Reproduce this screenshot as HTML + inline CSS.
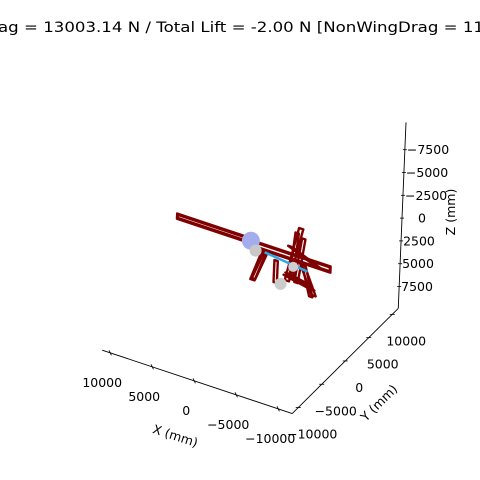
<!DOCTYPE html>
<html><head><meta charset="utf-8"><style>
html,body{margin:0;padding:0;background:#fff}
svg{display:block;font-family:"DejaVu Sans","Liberation Sans",sans-serif}
</style></head><body>
<svg id="chart" width="480" height="480" viewBox="0 0 480 480" xmlns="http://www.w3.org/2000/svg">
<rect width="480" height="480" fill="#fff"/>
<text x="-2" y="32" font-size="14.5" textLength="486" lengthAdjust="spacingAndGlyphs">ag = 13003.14 N / Total Lift = -2.00 N [NonWingDrag = 11</text>
<g id="axes"></g>
<g id="model"></g>
</svg>
<script>
const xTicks = [10000, 5000, 0, -5000, -10000];
const xTickLabels = ["10000", "5000", "0", "\u22125000", "\u221210000"];
const yTicks = [-10000, -5000, 0, 5000, 10000];
const yTickLabels = ["\u221210000", "\u22125000", "0", "5000", "10000"];
const zTicks = [-7500, -5000, -2500, 0, 2500, 5000, 7500];
const zTickLabels = ["\u22127500", "\u22125000", "\u22122500", "0", "2500", "5000", "7500"];
const xRange = [10950, -11667];
const yRange = [-11280, 11280];
const zRange = [-10500, 9900];

// frames: [x1,x2,y,z1,z2] rectangles in x-z plane (mm)
const barFrames = [[8800, 0, 0, 0, 600], [8700, 100, 0, 150, 450], [0, -9500, 0, 200, 900], [-100, -9400, 0, 350, 750]];
// struts: [xa,za,xb,zb,width_mm]
const struts = [[-1310, 1130, -120, 4460, 500], [-1500, 1300, -300, 4300, 400], [-2860, 1535, -2860, 3950, 400],
  [-5600, -2820, -4170, 3320, 500], [-5200, -2200, -4700, 3000, 400], [-6000, -1800, -5300, 3200, 400],
  [-5830, 840, -7380, 3980, 500], [-6100, 900, -7100, 4200, 400], [-4000, 2800, -7200, 3400, 500],
  [-4200, 2500, -7000, 3000, 400], [-4400, -500, -7900, 800, 500]];
const spheres = [[0, 300, 9, "#a3aded"], [-600, 1200, 6, "#c8c8c8"], [-3700, 3900, 6, "#cccccc"], [-5100, 1600, 5, "#d0d0d0"]];
const cyanLine = [[-1670, 1050], [-6800, 1600]];

function P(x, y, z) {
  return [251 - 0.0084 * x + 0.0047 * y - 0.00038 * z, 238 - 0.0028 * x - 0.00466 * y + 0.00912 * z];
}
const NS = "http://www.w3.org/2000/svg";
function mk(parent, tag, attrs) {
  const e = document.createElementNS(NS, tag);
  for (const k in attrs) e.setAttribute(k, attrs[k]);
  parent.appendChild(e);
  return e;
}
const axes = document.getElementById("axes");
const model = document.getElementById("model");
const yBot = yRange[0], zBot = zRange[1], xEnd = xRange[1];

// X axis
let a = P(xRange[0], yBot, zBot), b = P(xEnd, yBot, zBot);
let l = mk(axes, "line", {x1: a[0], y1: a[1], x2: b[0], y2: b[1], stroke: "#000", "stroke-width": 0.9});


xTicks.forEach((v, i) => {
  const p = P(v, yBot, zBot);
  const t = mk(axes, "line", {x1: p[0] - 1.2, y1: p[1] - 2.5, x2: p[0] + 1.2, y2: p[1] + 2.5, stroke: "#000", "stroke-width": 0.8});
  
  
  const tx = mk(axes, "text", {x: p[0] - 8, y: p[1] + 34, "font-size": 12.5, "text-anchor": "middle"});
  tx.textContent = xTickLabels[i];
  
  
});
let xl = mk(axes, "text", {x: 0, y: 0, "font-size": 12.5, "text-anchor": "middle", transform: "translate(174,440) rotate(18)"});
xl.textContent = "X (mm)";



// Y axis
a = P(xEnd, yRange[0], zBot); b = P(xEnd, yRange[1], zBot);
l = mk(axes, "line", {x1: a[0], y1: a[1], x2: b[0], y2: b[1], stroke: "#000", "stroke-width": 0.9});


yTicks.forEach((v, i) => {
  const p = P(xEnd, v, zBot);
  const t = mk(axes, "line", {x1: p[0] - 2.5, y1: p[1], x2: p[0] + 2.5, y2: p[1], stroke: "#000", "stroke-width": 0.8});
  
  
  const tx = mk(axes, "text", {x: p[0] + 14, y: p[1] + 31, "font-size": 12.5, "text-anchor": "middle"});
  tx.textContent = yTickLabels[i];
  
  
});
let yl = mk(axes, "text", {x: 0, y: 0, "font-size": 12.5, "text-anchor": "middle", transform: "translate(382,406) rotate(-45)"});
yl.textContent = "Y (mm)";



// Z axis
a = P(xEnd, yRange[1], zRange[0]); b = P(xEnd, yRange[1], zBot);
l = mk(axes, "line", {x1: a[0], y1: a[1], x2: b[0], y2: b[1], stroke: "#000", "stroke-width": 0.9});


zTicks.forEach((v, i) => {
  const p = P(xEnd, yRange[1], v);
  const t = mk(axes, "line", {x1: p[0] - 2, y1: p[1], x2: p[0] + 2, y2: p[1], stroke: "#000", "stroke-width": 0.8});
  
  
  const tx = mk(axes, "text", {x: p[0] + (v === 0 ? 20 : 2), y: p[1] + 4.5, "font-size": 12.5, "text-anchor": v === 0 ? "middle" : "start"});
  tx.textContent = zTickLabels[i];
  
  
});
let zl = mk(axes, "text", {x: 0, y: 0, "font-size": 12.5, "text-anchor": "middle", transform: "translate(455,212) rotate(-90)"});
zl.textContent = "Z (mm)";



const red = "#7f0000";
barFrames.forEach(f => {
  const pts = [P(f[0], f[2], f[3]), P(f[1], f[2], f[3]), P(f[1], f[2], f[4]), P(f[0], f[2], f[4])];
  const e = mk(model, "polygon", {points: pts.map(p => p.join(",")).join(" "), fill: "none", stroke: red, "stroke-width": 2.2, "stroke-linejoin": "round"});
  
  
});
struts.forEach(s => {
  const w = s[4];
  const pts = [P(s[0], 0, s[1]), P(s[2], 0, s[3]), P(s[2] - w, 0, s[3]), P(s[0] - w, 0, s[1])];
  const e = mk(model, "polygon", {points: pts.map(p => p.join(",")).join(" "), fill: "none", stroke: red, "stroke-width": 2.4, "stroke-linejoin": "round"});
  
  
});
a = P(cyanLine[0][0], 0, cyanLine[0][1]); b = P(cyanLine[1][0], 0, cyanLine[1][1]);
l = mk(model, "line", {x1: a[0], y1: a[1], x2: b[0], y2: b[1], stroke: "#2fa8e8", "stroke-width": 2.5});


spheres.forEach(s => {
  const p = P(s[0], 0, s[1]);
  const c = mk(model, "circle", {cx: p[0], cy: p[1], r: s[2], fill: s[3]});
  
  
});
</script>
</body></html>
